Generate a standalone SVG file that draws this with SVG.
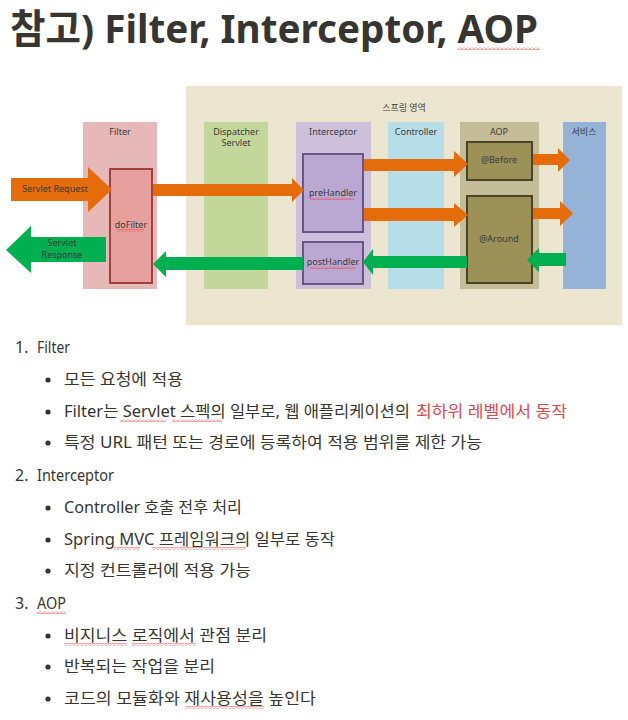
<svg xmlns="http://www.w3.org/2000/svg" width="628" height="720" viewBox="0 0 628 720">
<defs>
<style>
.t{font-family:"Noto Sans","Noto Sans CJK KR",sans-serif;fill:#37352f}
.d{font-family:"Noto Sans","Noto Sans CJK KR",sans-serif;font-size:9px;fill:#3a3a3a;text-anchor:middle}
.li{font-size:16px}
.or{fill:#e46c0a}
.gr{fill:#00b050}
.col{stroke:none}
</style>
<pattern id="sq" patternUnits="userSpaceOnUse" width="4" height="3">
<path d="M0,2.5 L2,0.5 L4,2.5" fill="none" stroke="#f03c3c" stroke-width="0.9"/>
</pattern>
</defs>
<rect width="628" height="720" fill="#ffffff"/>

<text class="t" x="10" y="43" font-size="40" font-weight="700" textLength="528" lengthAdjust="spacingAndGlyphs">참고) Filter, Interceptor, AOP</text>
<rect x="458" y="47" width="82" height="3" fill="url(#sq)"/>

<g id="spring-area">
<rect x="186" y="86" width="436" height="239" fill="#ece6d0"/>
<text class="d" x="404" y="111">스프링 영역</text>
</g>

<g id="filter">
<rect x="83" y="122" width="74" height="167" fill="#e6b8b7"/>
<text class="d" x="120" y="135">Filter</text>
</g>
<g id="dispatcher">
<rect x="204" y="122" width="64" height="167" fill="#c4d79b"/>
<text class="d" x="236" y="134.5" font-size="8.5">Dispatcher</text>
<text class="d" x="236" y="146.2" font-size="8.5">Servlet</text>
</g>
<g id="interceptor">
<rect x="296" y="122" width="75" height="167" fill="#ccc0da"/>
<text class="d" x="333" y="135">Interceptor</text>
</g>
<g id="controller">
<rect x="388" y="122" width="56" height="167" fill="#b7dde8"/>
<text class="d" x="416" y="135">Controller</text>
</g>
<g id="aop">
<rect x="460" y="122" width="79" height="167" fill="#c4bd97"/>
<text class="d" x="499" y="135">AOP</text>
</g>
<g id="service">
<rect x="563" y="122" width="43" height="167" fill="#95b3d7"/>
<text class="d" x="584" y="135">서비스</text>
</g>

<g id="doFilter">
<rect x="110" y="169" width="42" height="114" fill="#e6a19f" stroke="#a0413e" stroke-width="2"/>
<text class="d" x="131" y="228">doFilter</text>
<rect x="117" y="229" width="27" height="3" fill="url(#sq)"/>
</g>
<g id="preHandler">
<rect x="303" y="154" width="60" height="78" fill="#bba8d2" stroke="#6a5488" stroke-width="2"/>
<text class="d" x="333" y="196">preHandler</text>
<rect x="310" y="197" width="44" height="3" fill="url(#sq)"/>
</g>
<g id="postHandler">
<rect x="303" y="242" width="60" height="42" fill="#bba8d2" stroke="#6a5488" stroke-width="2"/>
<text class="d" x="333" y="265">postHandler</text>
<rect x="310" y="266" width="45" height="3" fill="url(#sq)"/>
</g>
<g id="before">
<rect x="467" y="142" width="65" height="38" fill="#9c9157" stroke="#4a452a" stroke-width="2"/>
<text class="d" x="499" y="163">@Before</text>
</g>
<g id="around">
<rect x="467" y="196" width="65" height="87" fill="#9c9157" stroke="#4a452a" stroke-width="2"/>
<text class="d" x="499" y="242">@Around</text>
</g>

<g id="connectors">
<polygon class="or" points="11,178 88,178 88,167 112,189.5 88,212 88,201 11,201"/>
<polygon class="or" points="153,184 292,184 292,178 304,190 292,202 292,196 153,196"/>
<polygon class="or" points="364,159 454,159 454,151 468,164 454,177 454,171 364,171"/>
<polygon class="or" points="364,208 454,208 454,203 468,215 454,227 454,221 364,221"/>
<polygon class="or" points="533,154 558,154 558,148 570,160 558,172 558,165 533,165"/>
<polygon class="or" points="533,208 560,208 560,201 573,213.5 560,226 560,219 533,219"/>
<polygon class="gr" points="566,253 539,253 539,248 527,260 539,272 539,266 566,266"/>
<polygon class="gr" points="467,256 373,256 373,249 363,262 373,275 373,268 467,268"/>
<polygon class="gr" points="303,257 166,257 166,251 153,264 166,277 166,270 303,270"/>
<polygon class="gr" points="106,237 31,237 31,226 6,250 31,273 31,262 106,262"/>
<text class="d" x="55" y="192" font-size="9.5">Servlet Request</text>
<text class="d" x="62" y="246" font-size="8.5">Servlet</text>
<text class="d" x="62" y="257.7" font-size="8.5">Response</text>
</g>

<g id="list">
<text class="t li" x="15" y="353">1.</text>
<text class="t li" x="37" y="353" textLength="33" lengthAdjust="spacingAndGlyphs">Filter</text>
<circle cx="48" cy="380" r="2.6" fill="#37352f"/>
<text class="t li" x="64" y="385" textLength="119" lengthAdjust="spacingAndGlyphs">모든 요청에 적용</text>
<circle cx="48" cy="412" r="2.6" fill="#37352f"/>
<text class="t li" x="64" y="417" textLength="346" lengthAdjust="spacingAndGlyphs">Filter는 Servlet 스펙의 일부로, 웹 애플리케이션의</text>
<text class="li" x="416" y="417" textLength="151" lengthAdjust="spacingAndGlyphs" font-family="Noto Sans, Noto Sans CJK KR, sans-serif" fill="#e0474c">최하위 레벨에서 동작</text>
<rect x="120" y="419" width="46" height="3" fill="url(#sq)"/>
<rect x="172" y="419" width="50" height="3" fill="url(#sq)"/>
<circle cx="48" cy="443" r="2.6" fill="#37352f"/>
<text class="t li" x="64" y="448" textLength="418" lengthAdjust="spacingAndGlyphs">특정 URL 패턴 또는 경로에 등록하여 적용 범위를 제한 가능</text>

<text class="t li" x="15" y="481">2.</text>
<text class="t li" x="37" y="481" textLength="77" lengthAdjust="spacingAndGlyphs">Interceptor</text>
<circle cx="48" cy="508" r="2.6" fill="#37352f"/>
<text class="t li" x="64" y="513" textLength="178" lengthAdjust="spacingAndGlyphs">Controller 호출 전후 처리</text>
<circle cx="48" cy="540" r="2.6" fill="#37352f"/>
<text class="t li" x="64" y="545" textLength="271" lengthAdjust="spacingAndGlyphs">Spring MVC 프레임워크의 일부로 동작</text>
<rect x="114" y="547" width="26" height="3" fill="url(#sq)"/>
<rect x="152" y="547" width="94" height="3" fill="url(#sq)"/>
<circle cx="48" cy="571" r="2.6" fill="#37352f"/>
<text class="t li" x="64" y="576" textLength="187" lengthAdjust="spacingAndGlyphs">지정 컨트롤러에 적용 가능</text>

<text class="t li" x="15" y="609">3.</text>
<text class="t li" x="37" y="609" textLength="29" lengthAdjust="spacingAndGlyphs">AOP</text>
<rect x="37" y="611" width="29" height="3" fill="url(#sq)"/>
<circle cx="48" cy="636" r="2.6" fill="#37352f"/>
<text class="t li" x="64" y="641" textLength="203" lengthAdjust="spacingAndGlyphs">비지니스 로직에서 관점 분리</text>
<rect x="64" y="643" width="63" height="3" fill="url(#sq)"/>
<rect x="132" y="643" width="64" height="3" fill="url(#sq)"/>
<circle cx="48" cy="667" r="2.6" fill="#37352f"/>
<text class="t li" x="64" y="672" textLength="151" lengthAdjust="spacingAndGlyphs">반복되는 작업을 분리</text>
<circle cx="48" cy="699" r="2.6" fill="#37352f"/>
<text class="t li" x="64" y="704" textLength="252" lengthAdjust="spacingAndGlyphs">코드의 모듈화와 재사용성을 높인다</text>
<rect x="185" y="706" width="79" height="3" fill="url(#sq)"/>
</g>
</svg>
